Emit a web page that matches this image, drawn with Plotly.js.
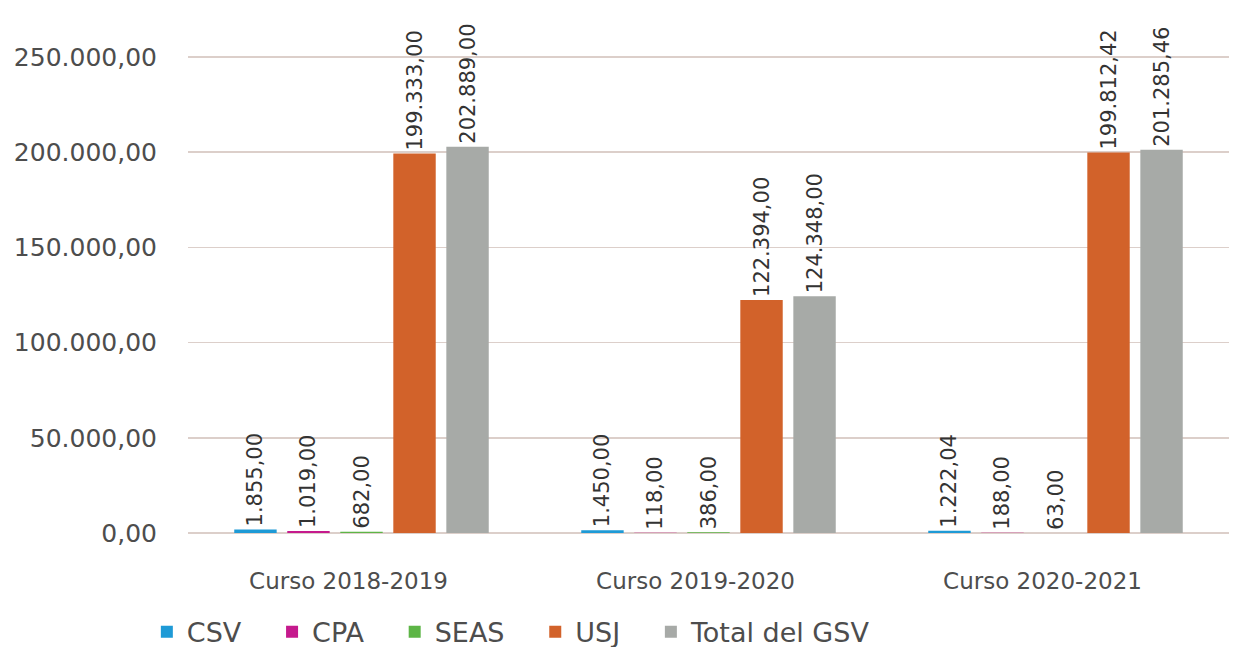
<!DOCTYPE html>
<html><head><meta charset="utf-8">
<script src="https://cdn.plot.ly/plotly-3.0.1.min.js"></script>
<style>body{margin:0;background:#fff}#chart{width:1234px;height:647px}</style>
</head><body><div id="chart"></div>
<script>
const categories = ["Curso 2018-2019", "Curso 2019-2020", "Curso 2020-2021"];
const seriesNames = ["CSV", "CPA", "SEAS", "USJ", "Total del GSV"];
const csv = [1855.00, 1450.00, 1222.04];
const cpa = [1019.00, 118.00, 188.00];
const seas = [682.00, 386.00, 63.00];
const usj = [199333.00, 122394.00, 199812.42];
const totalGSV = [202889.00, 124348.00, 201285.46];
const yTickVals = [0, 50000, 100000, 150000, 200000, 250000];
const colors = ["#1e9ad6", "#c51a8d", "#5db546", "#d2622a", "#a7aaa7"];

const values = [csv, cpa, seas, usj, totalGSV];
const font = "DejaVu Sans, sans-serif";
const pad = "\u00a0\u00a0\u00a0";
const traces = values.map((v, i) => ({
  type: "bar",
  name: seriesNames[i] + (i < seriesNames.length - 1 ? pad : ""),
  x: categories,
  y: v,
  marker: {color: colors[i]},
  texttemplate: "%{y:,.2f}",
  textposition: "outside",
  textangle: -90,
  textfont: {family: font, size: 21, color: "#333"},
  cliponaxis: false,
  constraintext: "none",
  hoverinfo: "none"
}));

const layout = {
  width: 1234, height: 647,
  margin: {l: 188, r: 5, t: 38, b: 114},
  separators: ",.",
  barmode: "group",
  bargap: 0.236,
  bargroupgap: 0.2,
  paper_bgcolor: "#fff",
  plot_bgcolor: "#fff",
  font: {family: font, color: "#4d4d4d"},
  xaxis: {
    tickfont: {family: font, size: 23, color: "#4d4d4d"},
    showline: false, showgrid: false,
    ticks: "outside", ticklen: 27, tickcolor: "rgba(0,0,0,0)",
    ticklabelshift: -13,
    automargin: false
  },
  yaxis: {
    range: [0, 260000],
    tickvals: yTickVals,
    tickformat: ",.2f",
    tickfont: {family: font, size: 25, color: "#4d4d4d"},
    gridcolor: "#dccfca",
    gridwidth: 1.5,
    zeroline: true, zerolinecolor: "#dccfca", zerolinewidth: 1.5,
    ticks: "outside", ticklen: 25, tickcolor: "rgba(0,0,0,0)",
    automargin: false
  },
  showlegend: true,
  legend: {
    orientation: "h",
    xref: "container", yref: "container",
    x: 0.119, xanchor: "left",
    y: 0.023, yanchor: "middle",
    font: {family: font, size: 27, color: "#4d4d4d"},
    itemwidth: 30,
    tracegroupgap: 0
  }
};

Plotly.newPlot("chart", traces, layout, {displayModeBar: false, staticPlot: true});
</script>
</body></html>
